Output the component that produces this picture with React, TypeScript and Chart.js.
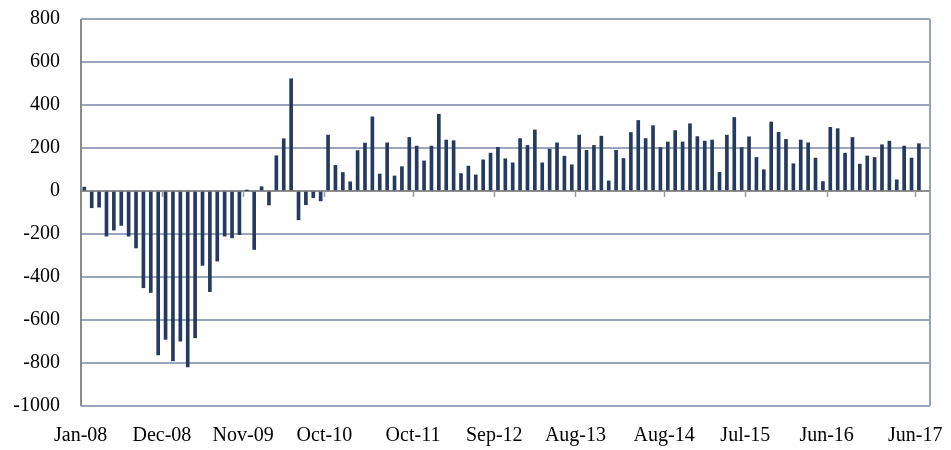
import React, { useEffect, useRef } from "react";
import { Chart, registerables } from "chart.js";

Chart.register(...registerables);

const MONTH_NAMES = ["Jan", "Feb", "Mar", "Apr", "May", "Jun", "Jul", "Aug", "Sep", "Oct", "Nov", "Dec"];
const START_YEAR = 8;
const MONTH_COUNT = 114;

// Monthly categories Jan-08 ... Jun-17
const categories: string[] = [];
for (let i = 0; i < MONTH_COUNT; i++) {
  const yy = START_YEAR + Math.floor(i / 12);
  categories.push(`${MONTH_NAMES[i % 12]}-${String(yy).padStart(2, "0")}`);
}

// Monthly change values
const values2008 = [18, -78, -75, -210, -182, -160, -210, -265, -450, -472, -762, -690];
const values2009 = [-790, -698, -818, -683, -346, -468, -326, -210, -218, -203, 2, -272];
const values2010 = [20, -65, 164, 243, 522, -134, -64, -31, -46, 260, 119, 86];
const values2011 = [43, 188, 223, 345, 79, 224, 70, 113, 249, 209, 140, 209];
const values2012 = [357, 237, 234, 81, 116, 75, 145, 176, 203, 150, 131, 244];
const values2013 = [212, 284, 131, 195, 224, 162, 122, 260, 189, 212, 255, 47];
const values2014 = [189, 151, 272, 328, 244, 304, 202, 228, 281, 228, 313, 253];
const values2015 = [232, 237, 87, 260, 342, 202, 252, 156, 99, 321, 273, 240];
const values2016 = [127, 237, 224, 153, 44, 296, 290, 176, 249, 125, 163, 156];
const values2017 = [215, 232, 52, 209, 153, 220];

const monthlyChange = [
  ...values2008, ...values2009, ...values2010, ...values2011, ...values2012,
  ...values2013, ...values2014, ...values2015, ...values2016, ...values2017,
];

const tickLabels = ["Jan-08", "Dec-08", "Nov-09", "Oct-10", "Oct-11", "Sep-12", "Aug-13", "Aug-14", "Jul-15", "Jun-16", "Jun-17"];

const Y_MIN = -1000;
const Y_MAX = 800;
const Y_STEP = 200;

const tickIndex = tickLabels.map((l) => categories.indexOf(l));

const FONT = "'Liberation Serif', 'Times New Roman', serif";

const framePlugin = {
  id: "frame",
  beforeDatasetsDraw(chart: any) {
    const { ctx, chartArea, scales } = chart;
    const { left, right, top, bottom } = chartArea;
    const x = scales.x;
    const y = scales.y;
    const y0 = y.getPixelForValue(0);
    ctx.save();
    // right border
    ctx.strokeStyle = "#98a3bb";
    ctx.lineWidth = 2;
    ctx.beginPath();
    ctx.moveTo(right, top);
    ctx.lineTo(right, bottom);
    ctx.stroke();
    // zero line
    ctx.strokeStyle = "#8e8e8e";
    ctx.lineWidth = 2;
    ctx.beginPath();
    ctx.moveTo(left, y0);
    ctx.lineTo(right, y0);
    ctx.stroke();
    // tick marks on zero line
    ctx.lineWidth = 1.5;
    ctx.strokeStyle = "#9a9a9a";
    tickIndex.forEach((idx, i) => {
      if (i === 0) return;
      const px = Math.round(x.getPixelForValue(idx - 0.5)) + 0.5;
      ctx.beginPath();
      ctx.moveTo(px, y0);
      ctx.lineTo(px, y0 + 6);
      ctx.stroke();
    });
    // left axis
    ctx.strokeStyle = "#8a8a8a";
    ctx.lineWidth = 2;
    ctx.beginPath();
    ctx.moveTo(left, top);
    ctx.lineTo(left, bottom);
    ctx.stroke();
    ctx.restore();
  },
};

export default function App() {
  const canvasRef = useRef<HTMLCanvasElement | null>(null);

  useEffect(() => {
    const canvas = canvasRef.current;
    if (!canvas) return;
    const chart = new Chart(canvas, {
      type: "bar",
      data: {
        datasets: [
          {
            data: monthlyChange.map((v, i) => ({ x: i, y: v })),
            backgroundColor: "#253a5f",
            borderWidth: 0,
            barThickness: 3,
          },
        ],
      },
      options: {
        responsive: false,
        animation: false,
        layout: { padding: { top: 19, right: 21, left: 0, bottom: 0 } },
        plugins: {
          legend: { display: false },
          tooltip: { enabled: false },
          title: { display: false },
        },
        scales: {
          x: {
            type: "linear",
            min: -0.45,
            max: 114.5,
            offset: false,
            grid: { display: false, drawTicks: false },
            border: { display: false },
            afterBuildTicks: (scale: any) => {
              scale.ticks = tickIndex.map((idx) => ({ value: idx - 0.5 }));
            },
            afterFit: (scale: any) => {
              scale.height = 44;
              scale.paddingRight = 0;
              scale.paddingLeft = 0;
            },
            ticks: {
              autoSkip: false,
              maxRotation: 0,
              minRotation: 0,
              padding: 18,
              color: "#000000",
              font: { family: FONT, size: 20 },
              callback: (value: any) => {
                const i = tickIndex.findIndex((idx) => Math.abs(idx - 0.5 - value) < 1e-6);
                return i >= 0 ? tickLabels[i] : "";
              },
            },
          },
          y: {
            min: Y_MIN,
            max: Y_MAX,
            afterFit: (scale: any) => {
              scale.width = 81;
              scale.paddingTop = 0;
              scale.paddingBottom = 0;
            },
            grid: {
              drawTicks: false,
              color: "#9ba6be",
              lineWidth: 2,
            },
            border: { display: false },
            ticks: {
              stepSize: Y_STEP,
              padding: 21,
              color: "#000000",
              font: { family: FONT, size: 20 },
              callback: (value: any) => String(value),
            },
          },
        },
      },
      plugins: [framePlugin],
    });
    return () => chart.destroy();
  }, []);

  return (
    <div style={{ position: "absolute", left: 0, top: 0, width: 951, height: 450, background: "#ffffff" }}>
      <canvas ref={canvasRef} width={951} height={450} style={{ display: "block" }} />
    </div>
  );
}
